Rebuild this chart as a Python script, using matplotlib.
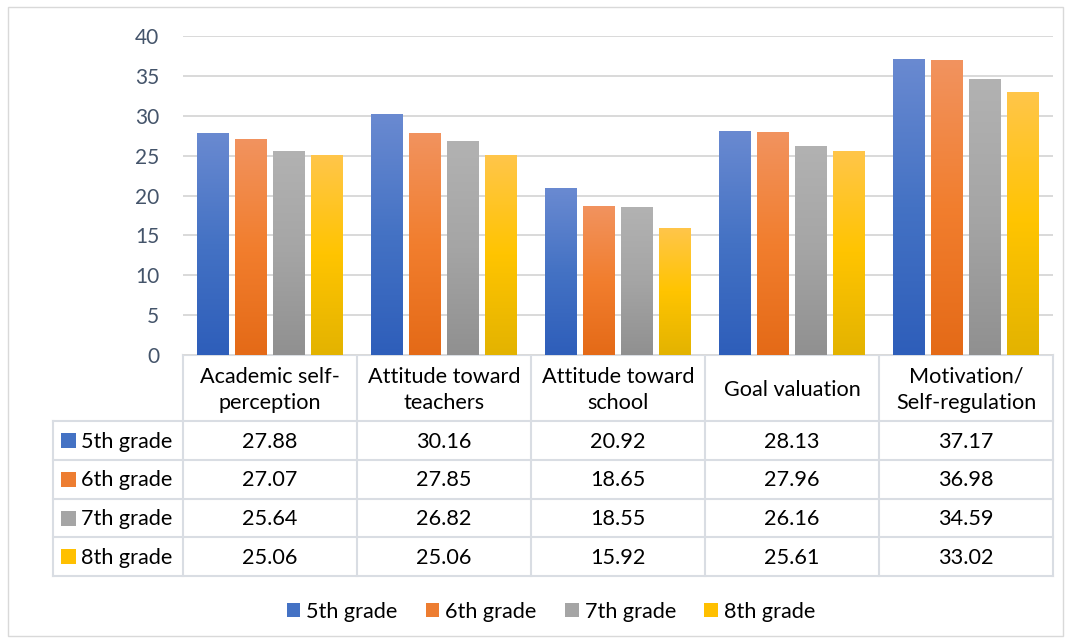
import matplotlib
matplotlib.use("Agg")
import matplotlib.pyplot as plt
import numpy as np
from matplotlib.colors import LinearSegmentedColormap
from matplotlib.patches import Rectangle, Patch
from matplotlib.lines import Line2D

plt.rcParams['font.family'] = ['Lato', 'DejaVu Sans']

# ---------------- data ----------------
categories = ["Academic self-\nperception", "Attitude toward\nteachers",
              "Attitude toward\nschool", "Goal valuation",
              "Motivation/\nSelf-regulation"]
series_names = ["5th grade", "6th grade", "7th grade", "8th grade"]
grade5 = [27.88, 30.16, 20.92, 28.13, 37.17]
grade6 = [27.07, 27.85, 18.65, 27.96, 36.98]
grade7 = [25.64, 26.82, 18.55, 26.16, 34.59]
grade8 = [25.06, 25.06, 15.92, 25.61, 33.02]
y_ticks = [0, 5, 10, 15, 20, 25, 30, 35, 40]

series_values = [grade5, grade6, grade7, grade8]
# gradient stops: bottom (dark), middle, top (light)
grad_colors = [
    ["#2E5EBA", "#4472C4", "#6A8AD1"],
    ["#E46A17", "#F27E2E", "#F1935F"],
    ["#909090", "#A5A5A5", "#B2B2B2"],
    ["#E3B300", "#FFC400", "#FFC64A"],
]
solid_colors = ["#4472C4", "#ED7D31", "#A5A5A5", "#FFC000"]

W, H = 1070, 643
fig = plt.figure(figsize=(W / 100, H / 100), dpi=100)


def fx(px):
    return px / W


def fy(py):
    return 1 - py / H


ax = fig.add_axes([fx(183), fy(355), fx(1053) - fx(183), fy(36) - fy(355)])

n = len(categories)
x = np.arange(n)
step = 38 / 174
width = 32 / 174
grad = np.linspace(0, 1, 256).reshape(-1, 1)

for j, (vals, gc) in enumerate(zip(series_values, grad_colors)):
    cmap = LinearSegmentedColormap.from_list(f"g{j}", gc)
    bars = ax.bar(x + (j - 1.5) * step, vals, width=width,
                  color=solid_colors[j], zorder=2, linewidth=0)
    for b in bars:
        bx, bw, bh = b.get_x(), b.get_width(), b.get_height()
        im = ax.imshow(grad, extent=[bx, bx + bw, 0, bh], origin='lower',
                       aspect='auto', cmap=cmap, zorder=3)
        im.set_clip_path(b)

ax.set_xlim(-0.5, n - 0.5)
ax.set_ylim(0, 40)
ax.set_yticks(y_ticks)
ax.set_xticks([])
ax.yaxis.grid(True, color='#D9D9D9', linewidth=1.4)
ax.set_axisbelow(True)
for s in ax.spines.values():
    s.set_visible(False)
ax.tick_params(axis='y', length=0, labelsize=15, labelcolor='#44546A', pad=17)

# ---------------- data table ----------------
tax = fig.add_axes([0, 0, 1, 1], zorder=-1)
tax.set_xlim(0, W)
tax.set_ylim(H, 0)
tax.axis('off')

fig.canvas.draw()
col_edges = [ax.transData.transform((i - 0.5, 0))[0] for i in range(n + 1)]
left_x = 53
row_edges = [355, 421, 460, 499, 537, 576]
lc = '#D9DDE3'
lw = 1.5
fs = 15.6

# horizontal lines
tax.add_line(Line2D([col_edges[0], col_edges[-1]], [row_edges[0]] * 2, color=lc, lw=lw))
for r in row_edges[1:]:
    tax.add_line(Line2D([left_x, col_edges[-1]], [r, r], color=lc, lw=lw))
# vertical lines
tax.add_line(Line2D([left_x, left_x], [row_edges[1], row_edges[-1]], color=lc, lw=lw))
for c in col_edges:
    tax.add_line(Line2D([c, c], [row_edges[0], row_edges[-1]], color=lc, lw=lw))

# header text
for i, cat in enumerate(categories):
    cx = (col_edges[i] + col_edges[i + 1]) / 2
    cy = (row_edges[0] + row_edges[1]) / 2
    tax.text(cx, cy + 2, cat, ha='center', va='center', fontsize=fs,
             color='#000000', linespacing=1.4)

# rows
for j, (name, vals) in enumerate(zip(series_names, series_values)):
    cy = (row_edges[j + 1] + row_edges[j + 2]) / 2
    tax.add_patch(Rectangle((61, cy - 7.5), 15, 15, facecolor=solid_colors[j],
                            edgecolor='none'))
    tax.text(81, cy + 1, name, ha='left', va='center', fontsize=fs, color='#000000')
    for i, v in enumerate(vals):
        cx = (col_edges[i] + col_edges[i + 1]) / 2
        tax.text(cx, cy + 1, f"{v:.2f}", ha='center', va='center', fontsize=fs,
                 color='#000000')

# outer border
tax.add_patch(Rectangle((8, 7), 1055, 629, facecolor='none', edgecolor='#D9D9D9', lw=1))

# legend
handles = [Patch(facecolor=c, edgecolor='none') for c in solid_colors]
fig.legend(handles, series_names, loc='center', bbox_to_anchor=(fx(551), fy(612)),
           ncol=4, frameon=False, fontsize=15.6, handlelength=0.62, handleheight=0.62,
           handletextpad=0.28, columnspacing=1.31)

fig.savefig("out.png", dpi=100)
